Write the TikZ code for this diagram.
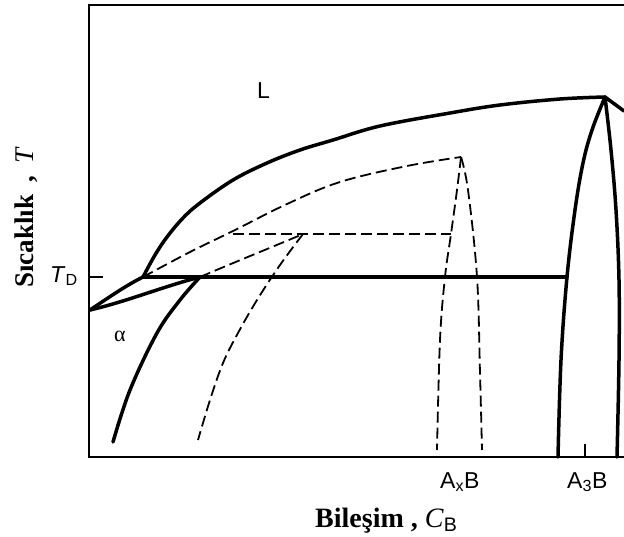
\documentclass[tikz,border=0pt]{standalone}
\usepackage{fontspec}
\setmainfont{Liberation Serif}
\setsansfont{Liberation Sans}
\begin{document}
\begin{tikzpicture}[x=1pt, y=-1pt,
    frame/.style={line width=2pt},
    phase/.style={line width=3.5pt, line join=round, line cap=round},
    meta/.style={line width=1.8pt, dash pattern=on 11pt off 5pt},
    lbl/.style={font=\sffamily\fontsize{23}{25}\selectfont, inner sep=0pt}]
    \useasboundingbox (0,0) rectangle (624,536);

    % eksenler
    \coordinate (o) at (89,457);
    \draw[frame] (624,5) -- (89,5) -- (o) -- (624,457);
    \draw[frame] (89,277) -- (103,277);
    \draw[frame] (585,457) -- (585,444);

    % kararli dengeler
    \coordinate (ta) at (90,310);
    \coordinate (e) at (143,277);
    \coordinate (sa) at (200,277);
    \coordinate (p) at (605,97);
    \coordinate (q) at (567,277);
    \draw[phase] plot[smooth, tension=0.6] coordinates {(e) (155,255) (167,237) (183,218) (200,203)
        (233,180) (267,163) (300,150) (333,140) (380,126) (450,113) (500,105) (560,99) (p)};
    \draw[phase] (p) -- (624,111);
    \draw[phase] plot[smooth, tension=0.6] coordinates {(p) (592,130) (583,163) (575,210) (q) (561,360) (558,457)};
    \draw[phase] plot[smooth, tension=0.6] coordinates {(p) (611,150) (616,210) (619,280) (619,360) (617,457)};
    \draw[phase] (e) -- (q);
    \draw[phase] (ta) .. controls (108,298) and (125,286) .. (e);
    \draw[phase] (ta) .. controls (125,302) and (165,286) .. (sa);
    \draw[phase] plot[smooth, tension=0.6] coordinates {(sa) (180,300) (157,333) (130,390) (113,442)};

    % yari kararli dengeler
    \coordinate (x) at (461,157);
    \coordinate (m) at (303,234);
    \draw[meta] plot[smooth, tension=0.6] coordinates {(e) (190,252) (233,231) (287,204) (340,182) (407,166) (x)};
    \draw[meta] (sa) .. controls (235,262) and (270,248) .. (m);
    \draw[meta] plot[smooth, tension=0.6] coordinates {(m) (280,265) (257,300) (238,333) (223,363) (210,400) (198,440)};
    \draw[meta] (233,234) -- (451,234);
    \draw[meta] plot[smooth, tension=0.6] coordinates {(x) (457,190) (451,234) (445,277) (440,340) (437,450)};
    \draw[meta] plot[smooth, tension=0.6] coordinates {(x) (468,190) (477,277) (480,373) (482,450)};

    % etiketler
    \node[lbl, anchor=base west] (liq) at (257,98) {L};
    \node[anchor=base west, inner sep=0pt, font=\fontsize{22}{22}\selectfont] (alfa) at (114,341) {α};
    \node[lbl, anchor=base west] (axb) at (440,488) {A\textsubscript{x}B};
    \node[lbl, anchor=base west] (a3b) at (567,488) {A\textsubscript{3}B};
    \node[lbl, anchor=base west, font=\sffamily\fontsize{23}{25}\selectfont] (td) at (50,282) {\textit{T}\textsubscript{D}};
    \node[rotate=90, anchor=base west, inner sep=0pt, font=\bfseries\fontsize{27}{27}\selectfont] (ylab)
        at (33,288) {Sıcaklık\hspace{12pt}, \hspace{6pt}\textnormal{\textit{T}}};
    \node[anchor=base west, inner sep=0pt, font=\bfseries\fontsize{28}{28}\selectfont] (xlab)
        at (315,527) {Bileşim , \textnormal{\textit{C}\textsubscript{\textsf{B}}}};
\end{tikzpicture}
\end{document}
